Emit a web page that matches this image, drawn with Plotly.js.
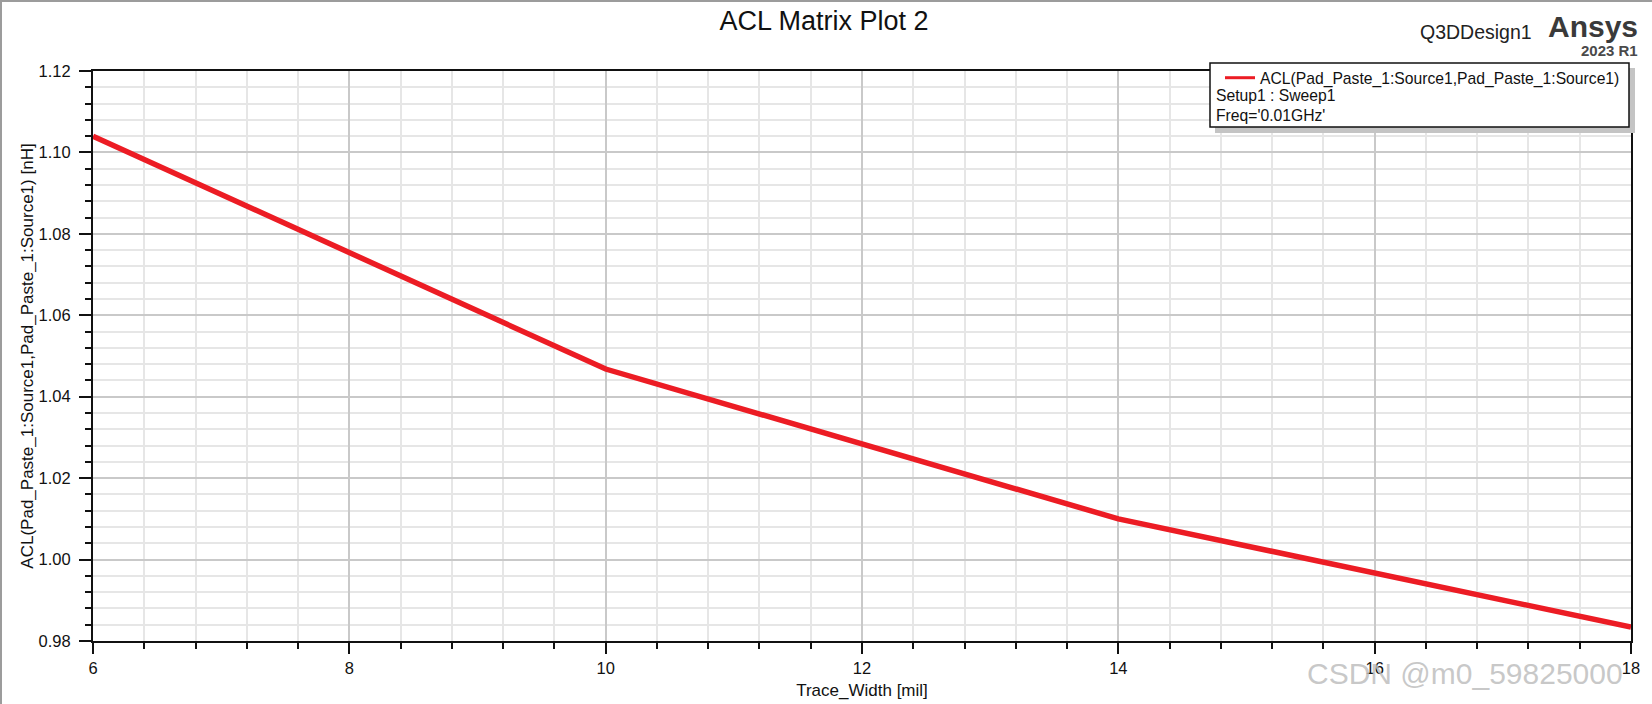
<!DOCTYPE html>
<html>
<head>
<meta charset="utf-8">
<script src="https://cdn.plot.ly/plotly-3.0.1.min.js"></script>
<style>
  html, body { margin: 0; padding: 0; background: #ffffff; }
  #chart { width: 1652px; height: 704px; }
</style>
</head>
<body>
<div id="chart"></div>
<script>
// ---- data ----
const traceWidth = [6, 10, 14, 18];                 // Trace_Width [mil]
const aclValues  = [1.1040, 1.0468, 1.0100, 0.9834]; // ACL [nH]
const xTickVals  = [6, 8, 10, 12, 14, 16, 18];
const yTickVals  = [0.98, 1.00, 1.02, 1.04, 1.06, 1.08, 1.10, 1.12];
const seriesName = "ACL(Pad_Paste_1:Source1,Pad_Paste_1:Source1)";
const legendExtra = ["Setup1 : Sweep1", "Freq='0.01GHz'"];
const chartTitle = "ACL Matrix Plot 2";
const xTitle = "Trace_Width [mil]";
const yTitle = "ACL(Pad_Paste_1:Source1,Pad_Paste_1:Source1) [nH]";
const designName = "Q3DDesign1";
const brand = "Ansys";
const brandVersion = "2023 R1";
const watermark = "CSDN @m0_59825000";

// ---- layout geometry (pixels) ----
const W = 1652, H = 704;
const M = { l: 93, r: 21, t: 71, b: 63 };
const PW = W - M.l - M.r, PH = H - M.t - M.b;
const px = x => (x - M.l) / PW;          // pixel x -> paper x
const py = y => (H - M.b - y) / PH;      // pixel y -> paper y

const FONT = "Liberation Sans, Arial, Helvetica, sans-serif";
const RED = "#ec1c24";

const trace = {
  x: traceWidth,
  y: aclValues,
  type: "scatter",
  mode: "lines",
  name: seriesName,
  line: { color: RED, width: 5.5 },
  showlegend: false,
  legendgroup: "acl",
  hoverinfo: "x+y"
};
// legend entry (thinner sample line, as in the reference legend)
const legendEntry = {
  x: [null], y: [null],
  type: "scatter", mode: "lines",
  name: seriesName,
  legendgroup: "acl",
  line: { color: RED, width: 3 },
  showlegend: true,
  hoverinfo: "skip"
};

function axisCommon() {
  return {
    showline: true, linecolor: "#111111", linewidth: 2, mirror: true,
    ticks: "outside", tickcolor: "#111111", tickwidth: 2,
    showgrid: true, gridcolor: "#c9c9c9", gridwidth: 1.5,
    zeroline: false,
    tickfont: { family: FONT, size: 16.5, color: "#111111" },
    automargin: false
  };
}

const layout = {
  width: W, height: H,
  margin: M,
  paper_bgcolor: "#ffffff",
  plot_bgcolor: "#ffffff",
  font: { family: FONT, color: "#111111" },
  title: {
    text: chartTitle,
    font: { family: FONT, size: 27, color: "#111111" },
    x: 824 / W, xanchor: "center", xref: "container",
    y: 1 - 21 / H, yanchor: "middle", yref: "container"
  },
  xaxis: Object.assign(axisCommon(), {
    range: [6, 18],
    tickmode: "array", tickvals: xTickVals,
    ticklen: 11,
    minor: { dtick: 0.4, tick0: 6, ticks: "outside", ticklen: 6, tickwidth: 1.5, tickcolor: "#111111",
             showgrid: true, gridcolor: "#e6e6e6", gridwidth: 1.5 },
    title: { text: xTitle, font: { family: FONT, size: 17, color: "#111111" }, standoff: 8 }
  }),
  yaxis: Object.assign(axisCommon(), {
    range: [0.98, 1.12],
    tickmode: "array", tickvals: yTickVals,
    tickformat: ".2f",
    ticklen: 12,
    ticklabelstandoff: 5,
    minor: { dtick: 0.004, tick0: 0.98, ticks: "outside", ticklen: 6, tickwidth: 1.5, tickcolor: "#111111",
             showgrid: true, gridcolor: "#e6e6e6", gridwidth: 1.5 },
    title: { text: yTitle, font: { family: FONT, size: 17, color: "#111111" }, standoff: 1 }
  }),
  showlegend: true,
  legend: {
    x: px(1220), xanchor: "left", xref: "paper",
    y: py(61), yanchor: "top", yref: "paper",
    bgcolor: "rgba(0,0,0,0)", borderwidth: 0,
    font: { family: FONT, size: 15.7, color: "#111111" },
    itemwidth: 30, tracegroupgap: 0
  },
  shapes: [
    // legend shadow
    { type: "rect", xref: "paper", yref: "paper", layer: "above",
      x0: px(1215), x1: px(1635), y0: py(68), y1: py(133),
      fillcolor: "#c4c4c4", line: { width: 0 } },
    // legend box
    { type: "rect", xref: "paper", yref: "paper", layer: "above",
      x0: px(1210), x1: px(1629), y0: py(63), y1: py(127),
      fillcolor: "#ffffff", line: { color: "#111111", width: 1.5 } },
    // outer frame: top and left
    { type: "line", xref: "paper", yref: "paper", layer: "above",
      x0: px(0), x1: px(W), y0: py(1), y1: py(1),
      line: { color: "#9c9c9c", width: 2 } },
    { type: "line", xref: "paper", yref: "paper", layer: "above",
      x0: px(1), x1: px(1), y0: py(0), y1: py(H),
      line: { color: "#9c9c9c", width: 2 } }
  ],
  annotations: [
    { text: designName, xref: "paper", yref: "paper", x: px(1534), y: py(32),
      xanchor: "right", yanchor: "middle", showarrow: false,
      font: { family: FONT, size: 19.5, color: "#222222" } },
    { text: "<b>" + brand + "</b>", xref: "paper", yref: "paper", x: px(1640), y: py(26.5),
      xanchor: "right", yanchor: "middle", showarrow: false,
      font: { family: FONT, size: 30, color: "#3a3a3a" } },
    { text: "<b>" + brandVersion + "</b>", xref: "paper", yref: "paper", x: px(1640), y: py(50),
      xanchor: "right", yanchor: "middle", showarrow: false,
      font: { family: FONT, size: 15, color: "#4a4a4a" } },
    { text: legendExtra[0], xref: "paper", yref: "paper", x: px(1214), y: py(95),
      xanchor: "left", yanchor: "middle", showarrow: false,
      font: { family: FONT, size: 15.7, color: "#111111" } },
    { text: legendExtra[1], xref: "paper", yref: "paper", x: px(1214), y: py(115),
      xanchor: "left", yanchor: "middle", showarrow: false,
      font: { family: FONT, size: 15.7, color: "#111111" } },
    { text: watermark, xref: "paper", yref: "paper", x: px(1305), y: py(673),
      xanchor: "left", yanchor: "middle", showarrow: false,
      font: { family: FONT, size: 30, color: "rgba(190,190,190,0.85)" } }
  ]
};

Plotly.newPlot("chart", [trace, legendEntry], layout, { displayModeBar: false, staticPlot: false });
</script>
</body>
</html>
